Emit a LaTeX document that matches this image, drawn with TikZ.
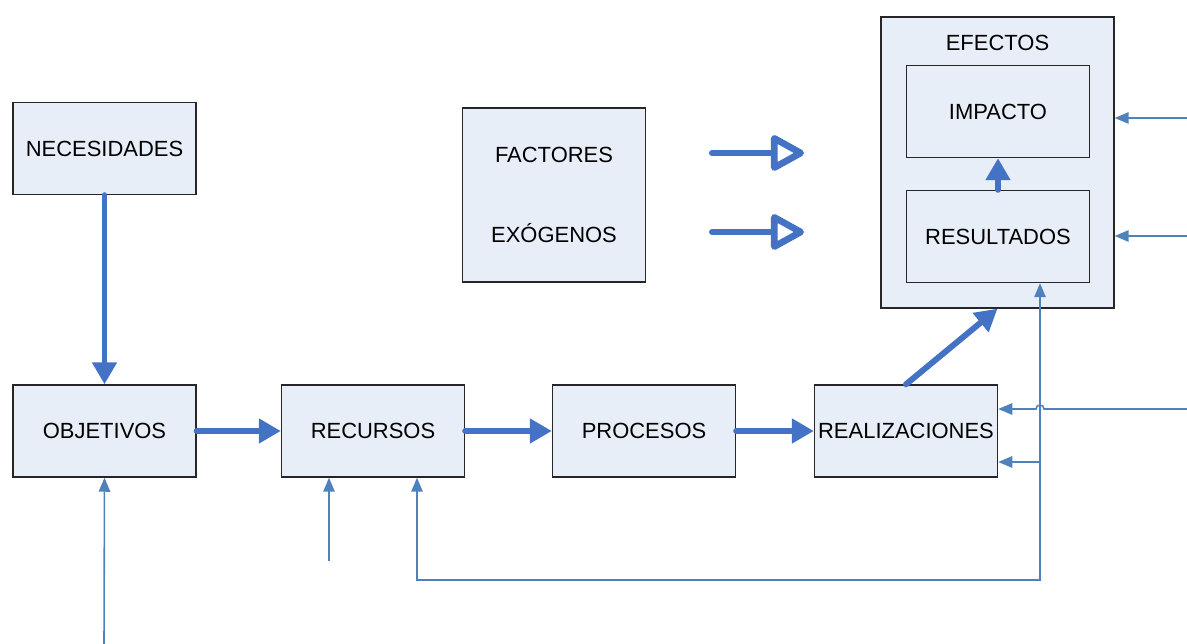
\documentclass[tikz,border=0pt]{standalone}
\usepackage{fontspec}
\setmainfont{Liberation Sans}
\usetikzlibrary{arrows.meta}
\definecolor{boxfill}{RGB}{232,238,247}
\definecolor{flow}{RGB}{68,114,196}
\definecolor{wire}{RGB}{79,129,189}

\tikzset{
  box/.style={draw=black!85, line width=0.8pt, fill=boxfill, minimum width=3.66cm, minimum height=1.84cm, inner sep=0pt},
  bigarrow/.style={-{Triangle[length=12.5pt,width=13.5pt]}, line width=3.4pt, flow, line cap=round},
  openarrow/.style={-{Triangle[open,round,length=21pt,width=22pt,line width=3.8pt]}, line width=3.4pt, flow, line cap=round},
  wirearrow/.style={-{Triangle[length=8pt,width=6.5pt]}, line width=0.9pt, wire}
}

\begin{document}
\begin{tikzpicture}[x=0.02cm, y=-0.02cm, font=\fontsize{12.5}{15}\selectfont]
\useasboundingbox (0,0) rectangle (1187,644);

% boxes
\node[box] (nec) at (104.5,148.5) {NECESIDADES};
\node[box] (obj) at (104.5,431) {OBJETIVOS};
\node[box] (rec) at (373,431) {RECURSOS};
\node[box] (pro) at (644,431) {PROCESOS};
\node[box] (rea) at (906,431) {REALIZACIONES};
\node[box, minimum height=3.48cm] (fac) at (554,195) {};
\node (facA) at (554,155) {FACTORES};
\node (facB) at (554,233) {EXÓGENOS};
\node[box, minimum width=4.66cm, minimum height=5.82cm] (efe) at (997.5,162.5) {};
\node (efeT) at (997.5,43) {EFECTOS};
\node[box] (imp) at (998,111.5) {IMPACTO};
\node[box] (res) at (998,236.5) {RESULTADOS};

% main chain
\draw[bigarrow] (nec) -- (obj);
\draw[bigarrow] (obj) -- (rec);
\draw[bigarrow] (rec) -- (pro);
\draw[bigarrow] (pro) -- (rea);
\draw[bigarrow] (rea.north) -- (efe.south);
\draw[bigarrow] (res) -- (imp);

% exogenous factors
\coordinate (f1s) at (712,153);
\coordinate (f1e) at (804,153);
\coordinate (f2s) at (712,232);
\coordinate (f2e) at (804,232);
\draw[openarrow] (f1s) -- (f1e);
\draw[openarrow] (f2s) -- (f2e);

% inputs
\coordinate (inO) at (104,644);
\coordinate (inR) at (329,561);
\draw[wirearrow] (inO) -- (obj.south);
\draw[wirearrow] (inR) -- (inR |- rec.south);

% feedback
\coordinate (fbL) at (417,580);
\coordinate (fbR) at (1040,580);
\coordinate (br) at (1040,462);
\draw[wirearrow, {Triangle[length=8pt,width=6.5pt]}-{Triangle[length=8pt,width=6.5pt]}]
  (fbL |- rec.south) -- (fbL) -- (fbR) -- (fbR |- res.south);
\draw[wirearrow] (br) -- (br -| rea.east);

% outside
\coordinate (inA) at (1187,118);
\coordinate (inB) at (1187,236);
\coordinate (inC) at (1187,409);
\draw[wirearrow] (inA) -- (inA -| efe.east);
\draw[wirearrow] (inB) -- (inB -| efe.east);
\draw[wirearrow] (inC) -- (1044,409) arc (0:180:0.08cm) -- (inC -| rea.east);
\end{tikzpicture}
\end{document}
